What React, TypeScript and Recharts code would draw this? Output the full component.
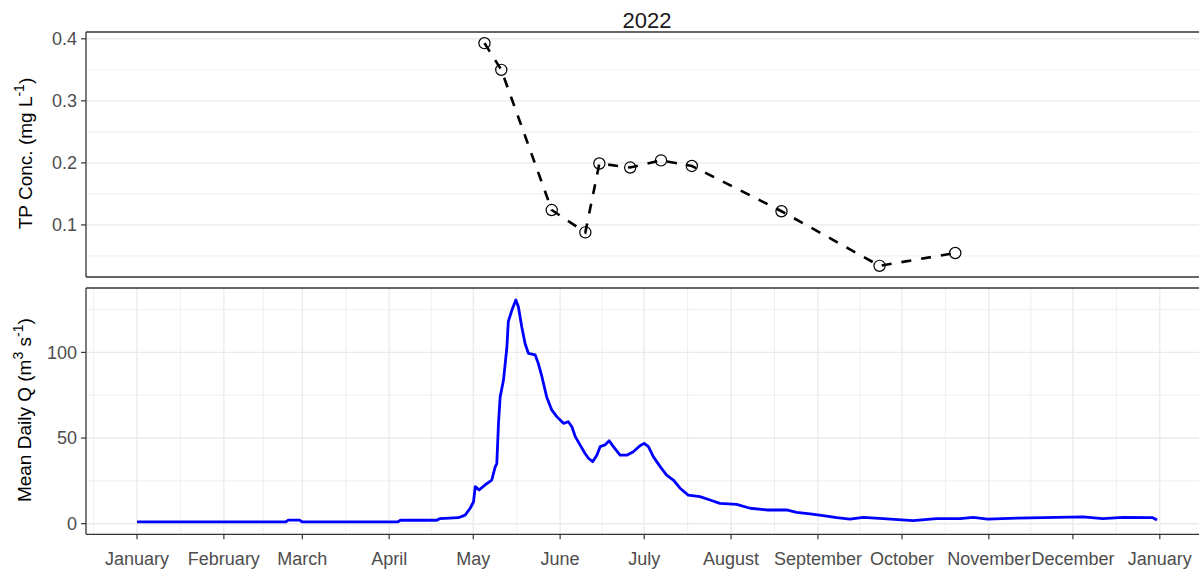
import { CartesianGrid, Line, LineChart, ReferenceLine, XAxis, YAxis } from "recharts";

const FONT = '"Liberation Sans", Arial, Helvetica, sans-serif';
const BORDER = "#333333";
const GRID = "#EBEBEB";
const TICK_TEXT = "#4D4D4D";

// x axis: days since 1 Jan 2022
const MONTHS = [
  "January", "February", "March", "April", "May", "June", "July",
  "August", "September", "October", "November", "December", "January",
];
const MONTH_DAYS = [0, 31, 59, 90, 120, 151, 181, 212, 243, 273, 304, 334, 365];
const MINOR_DAYS = [-15.5, 15.5, 45, 74.5, 105, 135.5, 166, 196.5, 227.5, 258, 288.5, 319, 349.5, 380.5];
const X_DOMAIN = [-18.2, 382.2];

// TP concentration samples
const tpDay = [124, 130, 148, 160, 165, 176, 187, 198, 230, 265, 292];
const tpValue = [0.393, 0.35, 0.124, 0.088, 0.199, 0.1925, 0.204, 0.195, 0.122, 0.034, 0.0547];
const TP_TICKS = [0.1, 0.2, 0.3, 0.4];
const TP_MINOR = [0.05, 0.15, 0.25, 0.35];
const TP_DOMAIN = [0.016, 0.411];

// mean daily discharge
const qDay = [
  0, 53, 54, 58, 59, 93, 94, 107, 108, 114.7, 117.1, 118.9, 120.1, 120.7, 122.1, 124.2, 126.6,
  127.8, 128.4, 129, 129.6, 130.8, 132, 132.5, 133.8, 135.2, 136.1, 137.3, 138.5, 139.7, 142.1,
  143.2, 144.5, 146.2, 148, 149.8, 152.2, 153.9, 155.2, 156.4, 158.1, 159.9, 161.1, 162.6, 164.1,
  165.3, 167, 168.5, 170, 172.4, 174.8, 177.1, 179.5, 181, 182.5, 184.3, 186.7, 189, 191.4, 193.8,
  196.7, 200.9, 204.5, 208, 214, 218.8, 224.7, 231.8, 235.4, 240.2, 245.5, 249.7, 254.4, 259.2,
  266.3, 277, 285.3, 293.7, 298.4, 303.6, 313.9, 337.6, 344.7, 351.8, 362.5, 364,
];
const qValue = [
  1.0, 1.0, 2.1, 2.1, 1.0, 1.0, 2.0, 2.0, 2.9, 3.5, 5, 9, 12.8, 21.6, 19.7, 22.6, 25.5,
  33, 35, 58.6, 74, 84, 103, 118, 124.7, 130.6, 126.6, 115, 105, 99.4, 98.5,
  93.6, 85.8, 74, 66.4, 62.5, 58.6, 59.5, 56.6, 50.8, 46, 41, 38.2, 36.2, 40,
  45, 46, 48.4, 45, 40, 40, 42, 45.5, 46.9, 45, 39, 33.3, 28.4, 25.5, 20.7,
  16.7, 15.8, 13.8, 11.9, 11.3, 9, 8, 8, 6.6, 5.7, 4.5, 3.5, 2.7, 3.7,
  2.9, 1.75, 2.9, 2.9, 3.7, 2.7, 3.3, 4, 2.9, 3.7, 3.5, 2.2,
];
const Q_TICKS = [0, 50, 100];
const Q_MINOR = [25, 75, 125];
const Q_DOMAIN = [-6.2, 137.6];

const tpData = tpDay.map((d, i) => ({ day: d, tp: tpValue[i] }));
const qData = qDay.map((d, i) => ({ day: d, q: qValue[i] }));

const tickStyle = { fill: TICK_TEXT, fontSize: 18, fontFamily: FONT };

function AxisTitle({ viewBox, parts }: { viewBox?: any; parts: Array<[string, boolean]> }) {
  if (!viewBox) return null;
  const cx = viewBox.x + 31.5;
  const cy = viewBox.y + viewBox.height / 2 - 1;
  return (
    <text
      x={cx}
      y={cy}
      transform={`rotate(-90, ${cx}, ${cy})`}
      textAnchor="middle"
      fontFamily={FONT}
      fontSize={19}
      fill="#000"
    >
      {parts.map(([s, sup], i) => {
        const prevSup = i > 0 && parts[i - 1][1];
        const dy = sup && !prevSup ? -8 : !sup && prevSup ? 8 : 0;
        return (
          <tspan key={i} dy={dy} fontSize={sup ? 14 : 19}>
            {s}
          </tspan>
        );
      })}
    </text>
  );
}

export default function App() {
  return (
    <div
      style={{
        position: "absolute",
        left: 0,
        top: 0,
        width: 1199,
        height: 569,
        overflow: "hidden",
        background: "#fff",
        fontFamily: FONT,
      }}
    >
      <div style={{ position: "absolute", left: 0, top: 0 }}>
        <LineChart width={1212} height={280} data={tpData} margin={{ top: 32, right: 4, bottom: 3, left: 0 }}>
          <CartesianGrid stroke={GRID} strokeWidth={0.8} verticalValues={MINOR_DAYS} horizontalValues={TP_MINOR} />
          <CartesianGrid stroke={GRID} strokeWidth={1.4} verticalValues={MONTH_DAYS} horizontalValues={TP_TICKS} />
          <XAxis
            type="number"
            dataKey="day"
            domain={X_DOMAIN}
            allowDataOverflow
            ticks={MONTH_DAYS}
            tick={false}
            tickLine={false}
            height={0}
            axisLine={false}
          />
          <YAxis
            type="number"
            domain={TP_DOMAIN}
            allowDataOverflow
            ticks={TP_TICKS}
            width={86}
            tickSize={5}
            tickMargin={4}
            tick={tickStyle}
            tickLine={{ stroke: BORDER, strokeWidth: 1.2 }}
            axisLine={{ stroke: BORDER, strokeWidth: 1.3 }}
            tickFormatter={(v: number) => v.toFixed(1)}
            label={{
              content: (p: any) => (
                <AxisTitle viewBox={p.viewBox} parts={[["TP Conc. (mg L", false], ["-1", true], [")", false]]} />
              ),
            }}
          />
          <ReferenceLine
            y={TP_DOMAIN[1]}
            stroke={BORDER}
            strokeWidth={1.3}
            label={{ value: "2022", position: "top", offset: 4, fill: "#1a1a1a", fontSize: 22, fontFamily: FONT }}
          />
          <ReferenceLine y={TP_DOMAIN[0]} stroke={BORDER} strokeWidth={1.3} />
          <Line
            type="linear"
            dataKey="tp"
            stroke="#000"
            strokeWidth={2.6}
            strokeDasharray="10 10"
            dot={{ r: 5.6, stroke: "#000", strokeWidth: 1.2, fill: "none", strokeDasharray: "none" }}
            activeDot={false}
            isAnimationActive={false}
          />
        </LineChart>
      </div>
      <div style={{ position: "absolute", left: 0, top: 280 }}>
        <LineChart width={1212} height={289} data={qData} margin={{ top: 8, right: 4, bottom: 0, left: 0 }}>
          <CartesianGrid stroke={GRID} strokeWidth={0.8} verticalValues={MINOR_DAYS} horizontalValues={Q_MINOR} />
          <CartesianGrid stroke={GRID} strokeWidth={1.4} verticalValues={MONTH_DAYS} horizontalValues={Q_TICKS} />
          <XAxis
            type="number"
            dataKey="day"
            domain={X_DOMAIN}
            allowDataOverflow
            ticks={MONTH_DAYS}
            interval={0}
            height={34.7}
            tickSize={5}
            tickMargin={12.5}
            tick={tickStyle}
            tickLine={{ stroke: BORDER, strokeWidth: 1.2 }}
            axisLine={{ stroke: BORDER, strokeWidth: 1.3 }}
            tickFormatter={(v: number) => MONTHS[MONTH_DAYS.indexOf(v)] ?? ""}
          />
          <YAxis
            type="number"
            domain={Q_DOMAIN}
            allowDataOverflow
            ticks={Q_TICKS}
            width={86}
            tickSize={5}
            tickMargin={4}
            tick={tickStyle}
            tickLine={{ stroke: BORDER, strokeWidth: 1.2 }}
            axisLine={{ stroke: BORDER, strokeWidth: 1.3 }}
            label={{
              content: (p: any) => (
                <AxisTitle
                  viewBox={p.viewBox}
                  parts={[["Mean Daily Q (m", false], ["3", true], [" s", false], ["-1", true], [")", false]]}
                />
              ),
            }}
          />
          <ReferenceLine y={Q_DOMAIN[1]} stroke={BORDER} strokeWidth={1.3} />
          <Line
            type="linear"
            dataKey="q"
            stroke="#0000FF"
            strokeWidth={2.8}
            strokeLinejoin="round"
            dot={false}
            activeDot={false}
            isAnimationActive={false}
          />
        </LineChart>
      </div>
    </div>
  );
}
